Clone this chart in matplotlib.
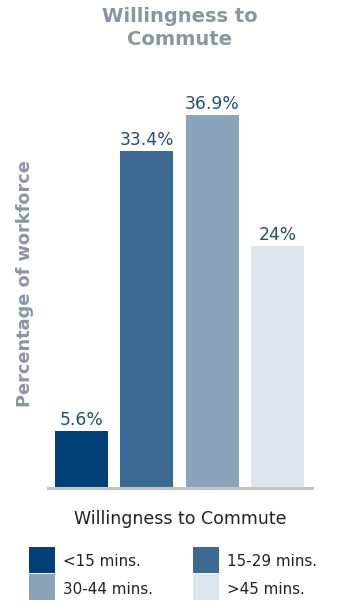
import matplotlib
matplotlib.use("Agg")
import matplotlib.pyplot as plt
from matplotlib.patches import Rectangle

categories = ["<15 mins.", "15-29 mins.", "30-44 mins.", ">45 mins."]
values = [5.6, 33.4, 36.9, 24]
value_labels = ["5.6%", "33.4%", "36.9%", "24%"]
colors = ["#003f78", "#3d6a92", "#89a3ba", "#dde4ec"]

title_color = "#8795a5"
label_color = "#1f4e80"

W, H = 337, 603
fig = plt.figure(figsize=(W / 100, H / 100), dpi=100)
plt.rcParams["font.family"] = ["DejaVu Sans"]

ax = fig.add_axes([48 / W, 115 / H, 264 / W, 404 / H])
x = list(range(len(values)))
bars = ax.bar(x, values, width=0.81, color=colors, zorder=2)
ax.set_xlim(-0.51, 3.52)
ax.set_ylim(0, 40)

for rect, txt in zip(bars, value_labels):
    ax.annotate(txt, (rect.get_x() + rect.get_width() / 2, rect.get_height()),
                xytext=(0, 1.5), textcoords="offset points", ha="center", va="bottom",
                fontsize=12.3, color=label_color)

for s in ["top", "right", "left"]:
    ax.spines[s].set_visible(False)
ax.spines["bottom"].set_color("#c4c4c4")
ax.spines["bottom"].set_linewidth(2.2)
ax.spines["bottom"].set_zorder(3)
ax.set_xticks([])
ax.set_yticks([])

fig.text(180 / W, 1 - 28 / H, "Willingness to\nCommute", ha="center", va="center",
         fontsize=14, fontweight="bold", color=title_color, linespacing=1.25)
fig.text(25 / W, 1 - 284 / H, "Percentage of workforce", rotation=90, ha="center",
         va="center", fontsize=12.8, fontweight="bold", color=title_color)
fig.text(180 / W, 1 - 519 / H, "Willingness to Commute", ha="center", va="center",
         fontsize=12.5, color="#222222")

# legend: two columns of swatches with labels
leg_pos = [(29, 547), (193, 547), (29, 574), (193, 574)]
for (lx, ly), c, name in zip(leg_pos, colors, categories):
    fig.patches.append(Rectangle((lx / W, 1 - (ly + 26) / H), 26 / W, 26 / H,
                                 transform=fig.transFigure, facecolor=c,
                                 edgecolor="none"))
    fig.text((lx + 34) / W, 1 - (ly + 15) / H, name, ha="left", va="center",
             fontsize=10.9, color="#222222")

fig.savefig("out.png", dpi=100)
